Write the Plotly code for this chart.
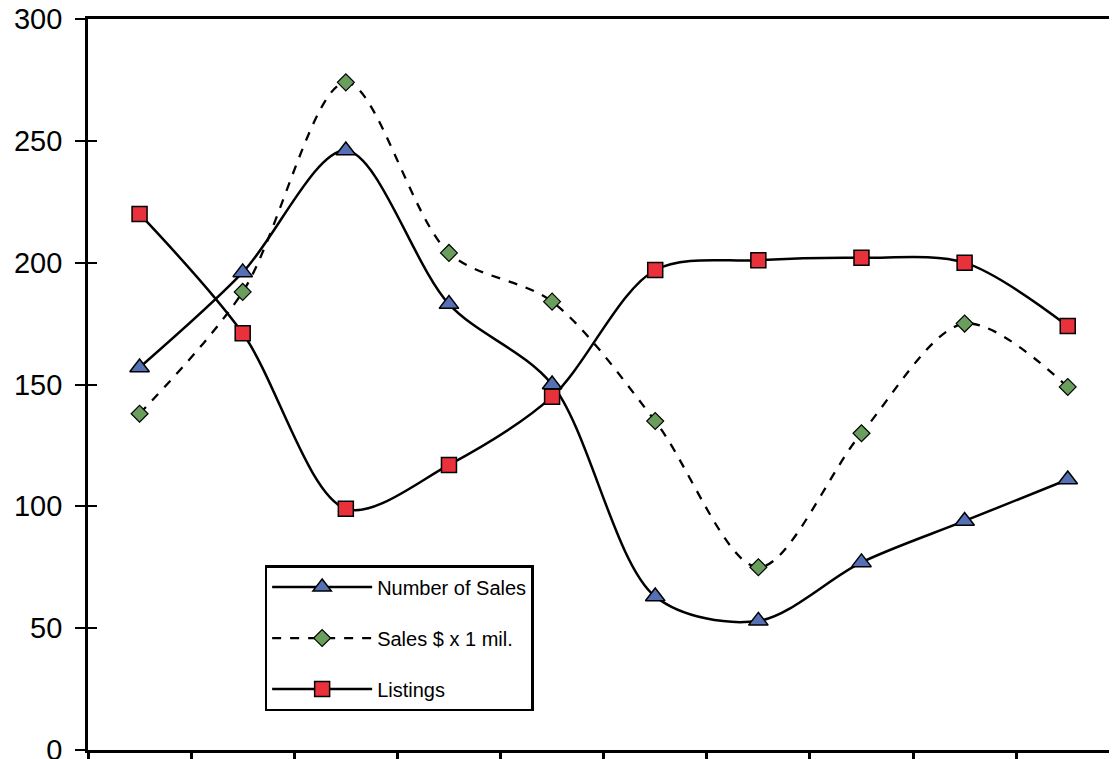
import plotly.graph_objects as go

categories = [1, 2, 3, 4, 5, 6, 7, 8, 9, 10]
number_of_sales = [157, 196, 246, 183, 150, 63, 53, 77, 94, 111]
sales_dollars = [138, 188, 274, 204, 184, 135, 75, 130, 175, 149]
listings = [220, 171, 99, 117, 145, 197, 201, 202, 200, 174]
y_ticks = [0, 50, 100, 150, 200, 250, 300]

fig = go.Figure()
fig.add_trace(go.Scatter(
    x=categories, y=number_of_sales, name="Number of Sales", mode="lines+markers",
    line=dict(color="black", width=2.5, shape="spline", smoothing=0.9),
    marker=dict(symbol="triangle-up", size=17, color="#5570b4", line=dict(color="black", width=1.5)),
    legendgroup="a"))
fig.add_trace(go.Scatter(
    x=categories, y=sales_dollars, name="Sales $ x 1 mil.", mode="lines+markers",
    line=dict(color="black", width=2.3, dash="dash", shape="spline", smoothing=0.9),
    marker=dict(symbol="diamond", size=13, color="#6a9e5c", line=dict(color="black", width=1.2)),
    legendgroup="b"))
fig.add_trace(go.Scatter(
    x=categories, y=listings, name="Listings", mode="lines+markers",
    line=dict(color="black", width=2.5, shape="spline", smoothing=0.9),
    marker=dict(symbol="square", size=15, color="#e8313b", line=dict(color="black", width=1.5)),
    legendgroup="c"))

# invisible trace to carry inward y ticks
fig.add_trace(go.Scatter(x=[categories[0]], y=[0], yaxis="y2", mode="markers",
                         marker=dict(opacity=0), showlegend=False, hoverinfo="skip"))

fig.update_layout(
    width=1101, height=759,
    margin=dict(l=80, r=0, t=11, b=17, autoexpand=False),
    paper_bgcolor="white", plot_bgcolor="white",
    font=dict(family="Liberation Sans, Arial, sans-serif", color="black"),
    showlegend=True,
    legend=dict(x=0.173, y=0.253, xanchor="left", yanchor="top",
                bordercolor="black", borderwidth=2.5, bgcolor="white",
                font=dict(size=20), tracegroupgap=22, itemwidth=100,
                entrywidth=316, entrywidthmode="pixels",
                traceorder="grouped"),
    xaxis=dict(range=[0.5, 10.4], showgrid=False, zeroline=False,
               showline=True, linecolor="black", linewidth=2.8, mirror=True,
               tickmode="array", tickvals=[i + 0.5 for i in range(0, 10)],
               showticklabels=False, ticks="outside", ticklen=10,
               tickwidth=2.5, tickcolor="black"),
    yaxis=dict(range=[0, 300], tickvals=y_ticks, showgrid=False, zeroline=False,
               showline=True, linecolor="black", linewidth=2.8, mirror=False,
               ticks="outside", ticklen=10, tickwidth=2.2, tickcolor="black",
               tickfont=dict(size=29), ticklabelstandoff=7,
               ticklabeloverflow="allow"),
    yaxis2=dict(range=[0, 300], overlaying="y", tickvals=y_ticks, showgrid=False,
                zeroline=False, showticklabels=False, ticks="inside", ticklen=9,
                tickwidth=2.2, tickcolor="black", side="left", showline=False),
)

fig.write_html("out.html")
